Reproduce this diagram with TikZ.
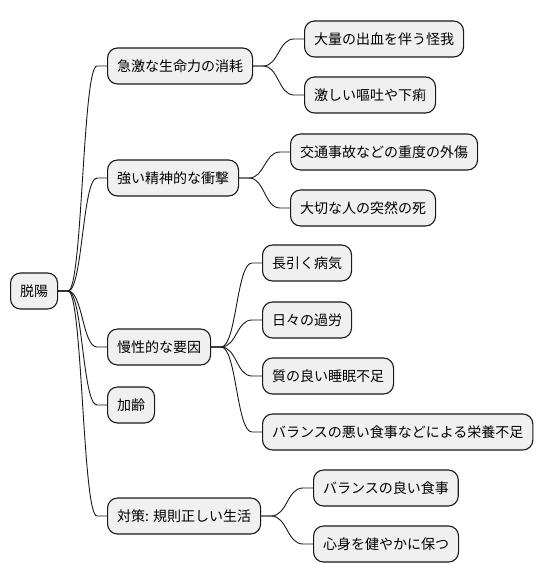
\documentclass[tikz,border=0pt]{standalone}
\usepackage{fontspec}
\setmainfont{Noto Sans CJK JP}
\usetikzlibrary{calc}

\tikzset{
    topic/.style={draw=black!90, fill=black!6, line width=1.1pt, rounded corners=10pt,
        anchor=west, minimum height=36pt, inner xsep=9.5pt, inner ysep=0pt,
        font=\fontsize{14}{16}\selectfont},
    link/.style={draw=black!90, line width=0.9pt}
}
% branch from a parent node to a child node
\newcommand{\branch}[2]{%
    \draw[link] let \p1=(#1.east), \p2=(#2.west) in
        (\p1) -- ({\x1+10pt},\y1)
        .. controls ({(\x1+\x2)/2},\y1) and ({(\x1+\x2)/2},\y2) .. ({\x2-10pt},\y2) -- (\p2);}

\begin{document}
\begin{tikzpicture}[x=1pt, y=-1pt]
    \useasboundingbox[fill=white] (0,0) rectangle (544,583);

    \node[topic] (root) at (10,291) {脱陽};

    \node[topic] (loss)   at (107,66)  {急激な生命力の消耗};
    \node[topic] (shock)  at (107,178) {強い精神的な衝撃};
    \node[topic] (chron)  at (107,347) {慢性的な要因};
    \node[topic] (age)    at (107,405) {加齢};
    \node[topic] (cure)   at (107,516) {対策: 規則正しい生活};

    \node[topic] (bleed)  at (304,39)  {大量の出血を伴う怪我};
    \node[topic] (vomit)  at (304,95)  {激しい嘔吐や下痢};
    \node[topic] (trauma) at (290,152) {交通事故などの重度の外傷};
    \node[topic] (death)  at (290,208) {大切な人の突然の死};
    \node[topic] (ill)    at (262,263) {長引く病気};
    \node[topic] (work)   at (262,320) {日々の過労};
    \node[topic] (sleep)  at (262,376) {質の良い睡眠不足};
    \node[topic] (food)   at (262,432) {バランスの悪い食事などによる栄養不足};
    \node[topic] (meal)   at (313,488) {バランスの良い食事};
    \node[topic] (mind)   at (313,544) {心身を健やかに保つ};

    % connectors
    \foreach \c in {loss,shock,chron,age,cure} {\branch{root}{\c}}
    \foreach \c in {bleed,vomit} {\branch{loss}{\c}}
    \foreach \c in {trauma,death} {\branch{shock}{\c}}
    \foreach \c in {ill,work,sleep,food} {\branch{chron}{\c}}
    \foreach \c in {meal,mind} {\branch{cure}{\c}}
\end{tikzpicture}
\end{document}
